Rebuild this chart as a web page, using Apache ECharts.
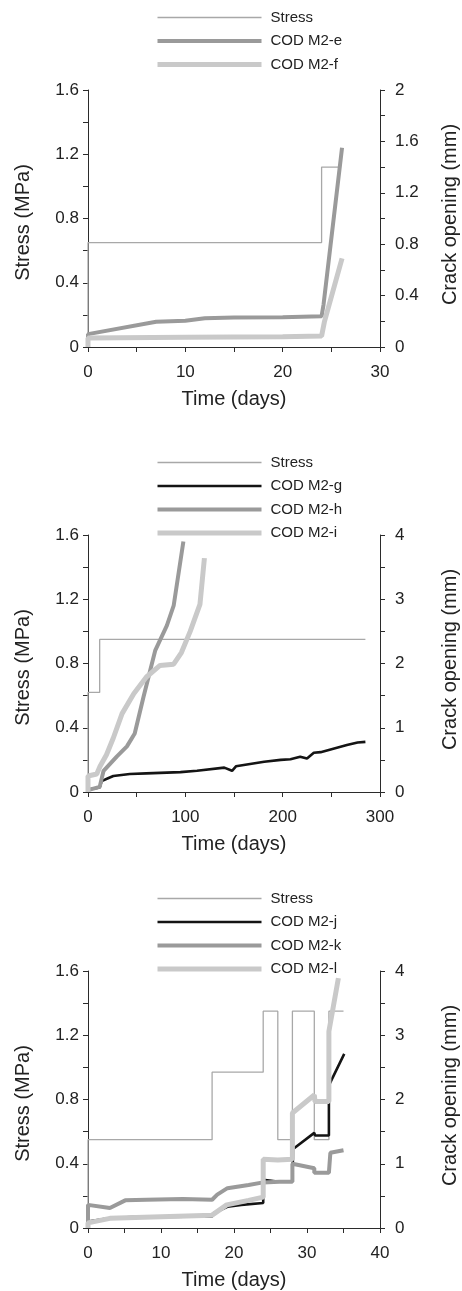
<!DOCTYPE html>
<html>
<head>
<meta charset="utf-8">
<script src="https://cdn.jsdelivr.net/npm/echarts@6/dist/echarts.min.js"></script>
<style>
html,body{margin:0;padding:0;background:#fff;}
#c{width:462px;height:1291px;}
</style>
</head>
<body>
<div id="c"></div>
<script>
// ---------- Panel 1 ----------
const stress1T = [0, 0, 24, 24, 26];
const stress1V = [0, 0.65, 0.65, 1.12, 1.12];
const codE_T = [0, 0, 7, 10, 12, 15, 20, 24, 24.2, 26.1];
const codE_V = [0, 0.1, 0.197, 0.205, 0.223, 0.23, 0.232, 0.24, 0.33, 1.55];
const codF_T = [0, 0, 10, 20, 24, 24.3, 26.1];
const codF_V = [0, 0.07, 0.075, 0.08, 0.085, 0.2, 0.69];

// ---------- Panel 2 ----------
const stress2T = [0, 0, 12, 12, 285];
const stress2V = [0, 0.62, 0.62, 0.95, 0.95];
const codG_T = [0, 0.3, 12, 14, 20, 26, 43, 60, 95, 112, 140, 148, 152, 181, 198, 208, 218, 225, 232, 239, 266, 277, 285];
const codG_V = [0, 0.04, 0.07, 0.17, 0.21, 0.25, 0.28, 0.29, 0.31, 0.33, 0.38, 0.33, 0.40, 0.47, 0.50, 0.51, 0.55, 0.52, 0.61, 0.62, 0.73, 0.77, 0.78];
const codH_T = [0, 12, 16, 29.5, 40, 48, 57, 69, 81, 88, 98];
const codH_V = [0.03, 0.08, 0.33, 0.55, 0.71, 0.91, 1.48, 2.2, 2.59, 2.9, 3.9];
const codI_T = [0, 0, 9, 12.4, 19, 26, 35, 47, 60, 74, 88, 96, 105, 115, 119.6];
const codI_V = [0, 0.25, 0.28, 0.40, 0.58, 0.84, 1.22, 1.53, 1.79, 1.97, 1.99, 2.17, 2.5, 2.92, 3.64];

// ---------- Panel 3 ----------
const stress3T = [0, 0, 17, 17, 24, 24, 26, 26, 28, 28, 31, 31, 33, 33, 35];
const stress3V = [0, 0.55, 0.55, 0.97, 0.97, 1.35, 1.35, 0.55, 0.55, 1.35, 1.35, 0.55, 0.55, 1.35, 1.35];
const codJ_T = [0, 0, 3, 6, 17, 17.2, 19.1, 21, 24, 24, 26.2, 28, 28.1, 31, 31.1, 33, 33, 35.1];
const codJ_V = [0, 0.1, 0.155, 0.17, 0.18, 0.23, 0.33, 0.36, 0.39, 0.75, 0.72, 0.72, 1.23, 1.48, 1.44, 1.44, 2.22, 2.71];
const codK_T = [0, 0, 3, 5.1, 8, 13, 17, 17.7, 19.1, 22, 24, 26.2, 28, 28, 31, 31, 33, 33.2, 35];
const codK_V = [0, 0.36, 0.31, 0.43, 0.44, 0.45, 0.44, 0.52, 0.62, 0.67, 0.71, 0.72, 0.72, 1.0, 0.93, 0.86, 0.86, 1.17, 1.21];
const codL_T = [0, 0, 3, 17, 19, 22, 24, 24, 26, 28, 28, 31, 31.1, 33, 33, 34.3];
const codL_V = [0, 0.08, 0.15, 0.2, 0.36, 0.43, 0.48, 1.07, 1.06, 1.07, 1.79, 2.07, 1.97, 1.97, 3.06, 3.89];

// ---------- Axes ----------
const xMax = [30, 300, 40];
const xStep = [10, 100, 10];
const rightMax = [2, 4, 4];
const rightStep = [0.4, 1, 1];
const leftMax = 1.6, leftStep = 0.4;
const legendNames = [
  ['Stress', 'COD M2-e', 'COD M2-f'],
  ['Stress', 'COD M2-g', 'COD M2-h', 'COD M2-i'],
  ['Stress', 'COD M2-j', 'COD M2-k', 'COD M2-l']
];

const FONT = "'Liberation Sans', Arial, sans-serif";
const AX = '#2b2b2b';
const gridTops = [90, 535, 971];
const legendTops = [10, 455, 891];

const zip = (t, v) => t.map((x, i) => [x, v[i]]);

const STYLES = {
  stress: { color: '#a8a8a8', width: 1.3 },
  dark: { color: '#141414', width: 2.6 },
  mid: { color: '#9a9a9a', width: 4 },
  light: { color: '#c9c9c9', width: 5 }
};
const nameStyle = {
  'Stress': STYLES.stress,
  'COD M2-e': STYLES.mid, 'COD M2-f': STYLES.light,
  'COD M2-g': STYLES.dark, 'COD M2-h': STYLES.mid, 'COD M2-i': STYLES.light,
  'COD M2-j': STYLES.dark, 'COD M2-k': STYLES.mid, 'COD M2-l': STYLES.light
};

function line(name, t, v, gi, right, st) {
  return {
    type: 'line', name: name, data: zip(t, v),
    xAxisIndex: gi, yAxisIndex: gi * 2 + (right ? 1 : 0),
    symbol: 'none', showSymbol: false, clip: true,
    lineStyle: { color: st.color, width: st.width },
    itemStyle: { color: st.color, opacity: 0 },
    emphasis: { disabled: true }
  };
}

const grid = [], xAxis = [], yAxis = [], legend = [];
for (let i = 0; i < 3; i++) {
  grid.push({ left: 88, right: 82, top: gridTops[i], height: 257,
    containLabel: false, outerBoundsMode: 'none' });
  xAxis.push({
    type: 'value', gridIndex: i, min: 0, max: xMax[i], interval: xStep[i],
    name: 'Time (days)', nameLocation: 'middle', nameGap: 42,
    nameTextStyle: { fontFamily: FONT, fontSize: 20, color: '#222' },
    axisLine: { show: true, lineStyle: { color: AX, width: 1 } },
    axisTick: { show: true, inside: false, length: 5, lineStyle: { color: AX } },
    minorTick: { show: true, splitNumber: 2, length: 5, lineStyle: { color: AX } },
    axisLabel: { fontFamily: FONT, fontSize: 17, color: '#222', margin: 17 },
    splitLine: { show: false }
  });
  yAxis.push({
    type: 'value', gridIndex: i, position: 'left', min: 0, max: leftMax, interval: leftStep,
    name: 'Stress (MPa)', nameLocation: 'middle', nameGap: 55,
    nameTextStyle: { fontFamily: FONT, fontSize: 20, color: '#222', padding: [0, 8, 0, 0] },
    axisLine: { show: true, lineStyle: { color: AX, width: 1 } },
    axisTick: { show: true, length: 5, lineStyle: { color: AX } },
    minorTick: { show: true, splitNumber: 2, length: 5, lineStyle: { color: AX } },
    axisLabel: { fontFamily: FONT, fontSize: 17, color: '#222', margin: 9,
      formatter: v => (v === 0 ? '0' : v.toFixed(1)) },
    splitLine: { show: false }
  });
  yAxis.push({
    type: 'value', gridIndex: i, position: 'right', min: 0, max: rightMax[i], interval: rightStep[i],
    name: 'Crack opening (mm)', nameLocation: 'middle', nameGap: 60,
    nameTextStyle: { fontFamily: FONT, fontSize: 20, color: '#222', padding: [0, 0, 0, 8] },
    axisLine: { show: true, lineStyle: { color: AX, width: 1 } },
    axisTick: { show: true, length: 5, lineStyle: { color: AX } },
    minorTick: { show: true, splitNumber: 2, length: 5, lineStyle: { color: AX } },
    axisLabel: { fontFamily: FONT, fontSize: 17, color: '#222', margin: 15,
      formatter: v => (Number.isInteger(v) ? String(v) : v.toFixed(1)) },
    splitLine: { show: false }
  });
  legend.push({
    show: true, orient: 'vertical', left: 155, top: legendTops[i], padding: 0,
    itemWidth: 104, itemHeight: 14, itemGap: 8.5, align: 'left',
    selectedMode: false,
    itemStyle: { opacity: 0, color: 'rgba(0,0,0,0)', borderWidth: 0 },
    data: legendNames[i].map(n => ({
      name: n,
      itemStyle: { opacity: 0, color: 'rgba(0,0,0,0)', borderWidth: 0 },
      lineStyle: { color: nameStyle[n].color, width: nameStyle[n].width }
    })),
    textStyle: { fontFamily: FONT, fontSize: 15, color: '#222', lineHeight: 14, padding: [0, 0, 0, 4] }
  });
}

const series = [
  line('Stress', stress1T, stress1V, 0, false, STYLES.stress),
  line('COD M2-e', codE_T, codE_V, 0, true, STYLES.mid),
  line('COD M2-f', codF_T, codF_V, 0, true, STYLES.light),
  line('Stress', stress2T, stress2V, 1, false, STYLES.stress),
  line('COD M2-g', codG_T, codG_V, 1, true, STYLES.dark),
  line('COD M2-h', codH_T, codH_V, 1, true, STYLES.mid),
  line('COD M2-i', codI_T, codI_V, 1, true, STYLES.light),
  line('Stress', stress3T, stress3V, 2, false, STYLES.stress),
  line('COD M2-j', codJ_T, codJ_V, 2, true, STYLES.dark),
  line('COD M2-k', codK_T, codK_V, 2, true, STYLES.mid),
  line('COD M2-l', codL_T, codL_V, 2, true, STYLES.light)
];

const chart = echarts.init(document.getElementById('c'), null, { renderer: 'canvas' });
chart.setOption({
  backgroundColor: '#fff',
  animation: false,
  grid, xAxis, yAxis, legend, series
});
</script>
</body>
</html>
